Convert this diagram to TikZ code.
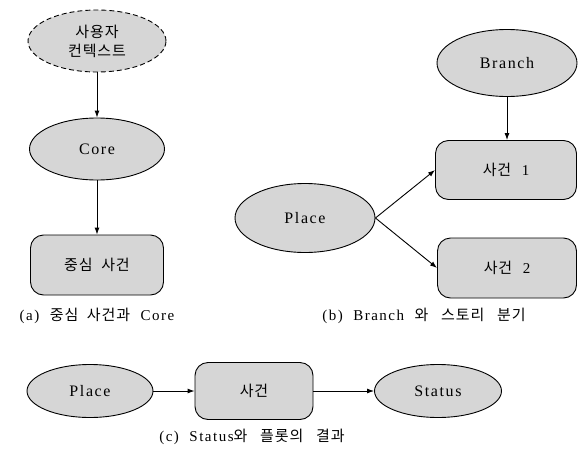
\documentclass[tikz,border=0pt]{standalone}
\usepackage{fontspec}
\setmainfont{Liberation Serif}[LetterSpace=10]
\newfontfamily\krfont{Noto Sans CJK KR}[LetterSpace=6]
\newcommand{\kor}[1]{{\krfont #1}}
\usetikzlibrary{shapes.geometric,arrows.meta}
\tikzset{
  oval/.style={ellipse,draw,fill=black!16,inner sep=0pt,font=\fontsize{16}{18}\selectfont},
  ctx/.style={oval,dash pattern=on 5pt off 3pt,align=center,font=\fontsize{15}{19}\selectfont},
  evt/.style={rectangle,rounded corners=13pt,draw,fill=black!16,inner sep=0pt,font=\fontsize{15}{18}\selectfont},
  subcap/.style={font=\fontsize{15}{17}\selectfont},
  arr/.style={-{Latex[length=7pt,width=5pt]}}
}
\begin{document}
\begin{tikzpicture}[x=1pt,y=-1pt,line width=0.9pt]
  \useasboundingbox (0,0) rectangle (578,458);
  \draw
    (97,41) node[ctx,minimum width=138,minimum height=62] (ctx){\kor{사용자}\\\kor{컨텍스트}}
    (97,149) node[oval,minimum width=135,minimum height=62] (core){Core}
    (97,265) node[evt,minimum width=133,minimum height=60] (cent){\kor{중심\ \ 사건}}
    (97,316) node[subcap] (capa){(a)\ \ \kor{중심\ \ 사건과}\ \ Core}
    (507,63) node[oval,minimum width=140,minimum height=67] (branch){Branch}
    (506,170) node[evt,minimum width=141,minimum height=59] (evone){\kor{사건}\ \ 1}
    (305,218) node[oval,minimum width=140,minimum height=69] (place){Place}
    (507,268) node[evt,minimum width=139,minimum height=60] (evtwo){\kor{사건}\ \ 2}
    (424,316) node[subcap] (capb){(b)\ \ Branch\ \ \kor{와\ \ \ 스토리\ \ \ 분기}}
    (90,391) node[oval,minimum width=126,minimum height=53] (placec){Place}
    (254,391) node[evt,minimum width=118,minimum height=57] (evc){\kor{사건}}
    (438,391) node[oval,minimum width=127,minimum height=53] (status){Status}
    (252,437) node[subcap] (capc){(c)\ \ Status\kor{와\ \ \ 플롯의\ \ \ 결과}};
  \begin{scope}[arr]
    \draw (ctx) to (core);
    \draw (core) to (cent);
    \draw (branch) to (branch |- evone.north);
    \draw (place.east) to (evone.west);
    \draw (place.east) to (evtwo.west);
    \draw (placec) to (evc);
    \draw (evc) to (status);
  \end{scope}
\end{tikzpicture}
\end{document}
